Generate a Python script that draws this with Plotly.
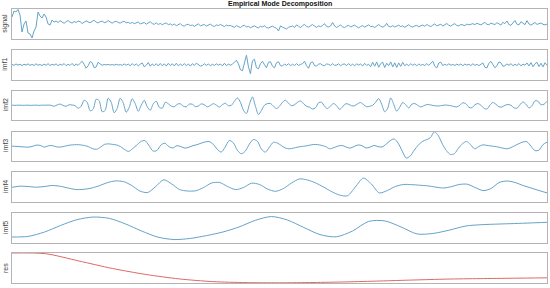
import numpy as np
import plotly.graph_objects as go

# ---------------- data ----------------
signal = [
    21.5, 27.5, 26.5, 29.0, 23.5, 6.5, 14.5, 17.5, 5.5, 4.5, 0.5, 7.5, 11.5, 26.5, 22.5, 20.5, 24.5, 21.5, 14.5, 13.5, 18.5, 16.5,
    17.5, 16.0, 17.8, 16.5, 15.2, 16.8, 18.0, 16.2, 15.5, 17.0,
    16.0, 17.5, 16.8, 15.0, 16.2, 17.6, 16.5, 15.8, 17.2, 18.2,
    16.4, 15.6, 16.9, 17.4, 15.9, 16.3, 17.9, 16.1, 15.3, 16.7,
    17.3, 16.0, 15.4, 16.6, 17.1, 15.7, 16.2, 15.0,
    16.2, 14.8, 15.9, 16.5, 14.6, 15.2, 16.0, 14.3, 15.4, 16.8,
    14.9, 14.2, 15.6, 14.0, 15.1, 13.8, 14.9, 15.5, 13.9, 14.6,
    13.2, 14.5, 12.8, 13.6, 14.8, 13.0, 12.4, 13.9, 14.2, 12.9,
    13.5, 12.2, 13.8, 14.6, 12.7, 13.1, 14.0, 12.5, 13.3, 14.4,
    12.8, 12.0, 13.6, 12.9, 14.1, 12.6, 11.9, 13.4, 12.7, 13.0,
    12.4, 11.2, 12.9, 11.8, 10.9, 12.5, 13.2, 11.6, 12.1, 10.8,
    11.9, 12.7, 11.3, 10.6, 12.2, 11.5, 12.8, 11.0, 10.5, 11.8,
    12.4, 11.1, 10.3, 7.5, 12.6, 11.4, 10.7, 9.5, 11.2, 12.0,
    12.5, 11.0, 13.6, 12.2, 10.8, 12.9, 14.2, 12.0, 11.3, 12.8,
    13.9, 12.4, 11.1, 12.6, 11.8, 13.0, 14.8, 12.1, 11.5, 12.7,
    16.0, 12.5, 11.0, 12.3, 13.5, 11.7, 10.9, 12.4, 13.1, 11.6,
    12.2, 13.4, 11.9, 10.7, 12.0, 12.9, 11.4, 12.6, 13.7, 11.8,
    12.3, 11.0, 12.8, 14.0, 12.2, 11.3, 12.5, 15.2, 12.0, 11.6,
    12.9, 11.5, 12.4, 13.3, 11.9, 12.7, 11.2, 12.5, 13.8, 12.1,
    11.4, 12.6, 13.0, 11.8, 12.4,
    13.5, 12.2, 14.0, 12.8, 11.9, 13.4, 14.6, 12.7, 13.1, 14.2,
    12.5, 13.8, 15.0, 13.2, 12.4, 13.9, 14.8, 13.0, 12.6, 14.1,
    13.5, 12.9, 14.4, 13.7, 14.2,
    14.8, 13.9, 15.2, 14.4, 13.6, 15.0, 16.1, 14.2, 13.8, 15.4,
    14.6, 13.9, 15.8, 14.7, 13.5, 16.2, 14.9, 17.5, 14.0, 13.2,
    15.6, 18.0, 14.3, 13.6, 16.8, 15.0, 13.8, 17.9, 14.5, 13.4,
    15.2, 16.0, 14.1, 14.8, 15.5, 14.2, 13.6, 14.4,
]

imf1 = [
    0.3, -0.6, 0.8, -0.4, 0.6, -0.9, 0.5, -0.3, 0.9, -0.7, 0.4, -0.8, 1.0, -0.5, 0.3, -0.9, 0.7,
    -0.6, 1.1, -0.8, 0.5, -0.4, 0.9, -1.0, 0.6, -0.5, 1.2, -0.9, 0.4, -0.7, 1.3, -1.1, 0.8, -0.6,
    1.5, 3.5, 0.5, -3.5, -1.0, 3.2, 2.0, -3.0, -2.2, 2.5, 0.8,
    -0.5, 0.3, -0.2, 0.4, -0.3, 0.2, -0.4, 0.5, -0.3, 0.2,
    -0.6, 0.8, -0.5, 0.7, -1.0, 1.2, -0.8, 0.9, -1.1, 0.6,
    1.8, -2.0, -0.5, 2.2, -1.5, 0.8, -0.9, 1.1, -1.2, 1.3,
    -1.0, 0.9, -1.3, 1.4, -0.8, 1.0, -1.2, 1.5, -1.1, 0.7,
    -0.9, 1.2, -1.0, 0.8, -1.4, 1.1, -0.7, 1.6, 0.5, -1.3,
    -0.8, 1.0, -0.6, 0.7, -0.9, 0.5, -0.7, 1.0, -0.5, 0.8,
    -1.2, 1.5, -0.8, 0.6, -0.4,
    0.5, 2.5, 4.5, 1.0, -5.0, -6.0, 3.0, 9.5, -2.0, -9.0, 4.0, 5.5, -3.0,
    -4.0, 1.0, 3.5, 0.0, -3.0, 2.5, 3.0, -1.5, -3.0, 2.0, 3.0, -1.0,
    -1.2, 0.8, -0.6, 1.0, -0.9, 0.5, -0.8, 1.1, -0.7, 0.4,
    1.0, 3.5, -1.0, -3.5, 2.0, 3.0, -1.0,
    -1.2, 0.6, 1.0, -0.5, -0.9, 0.8, 0.4, -0.7, 1.1, -0.6, -0.3, 0.9, -1.0, 0.5,
    0.7, -0.8, 1.2, -0.9, 0.6, -1.1, 1.0, -0.4, 0.8, -1.2, 1.4, -0.7, 0.5,
    -2.0, 2.5, -1.5, 2.8, -2.5, 1.2, 2.6, -2.8, 1.5, -1.0, 2.9, -2.2, 2.0, -2.7, 1.8, -1.6, 2.4, -1.0,
    0.6, -0.9, 1.0, -0.5, 0.7, -1.1, 0.9, -0.6, 0.4, -0.8, 1.1, -0.7,
    2.0, 3.6, -1.5, -3.2, 1.8, 2.6,
    -0.8, 0.5, -0.6, 0.9, -0.4, 0.3, -0.7, 0.6, -0.5, 0.8, -1.0, 0.7, -0.3, 0.5, -0.8, 1.0, -0.6, 0.4, -0.9, 0.7,
    1.8, -2.5, -3.2, 1.5, 3.4, 0.2, -3.0, -1.0, 2.8, 2.0, -1.5,
    -1.0, 0.8, -0.5, 1.1, -0.9, 0.4, -0.7, 1.2, -1.1, 0.6, -0.5,
    1.8, -1.2, 2.2, -2.0, 1.0, 2.4, -1.8, 1.5, -2.2, 2.0, -0.5,
]

imf2 = [
    0.1, -0.1, 0.1, 0.0, -0.1, 0.1, -0.1, 0.0, 0.1, -0.1, 0.1, 0.0, 0.2, -0.1,
    -1.0, 0.3, 1.2, -0.2, -1.0, 0.5, 0.2, -0.3,
    -3.0, -1.0, 5.0, 3.0, -5.5, -4.0, 6.0, 4.5, -6.5, -5.0,
    7.0, 3.0, -7.5, -3.0, 7.0, 2.5, -7.0, -2.0, 6.5, 1.5,
    -6.0, 0.0, 5.0, -1.5, -5.0, 1.5, 4.0, -2.0, -3.0, 3.0,
    1.5, -1.0, -1.5, 1.0, 1.5, -1.0, -1.5, 1.2, 1.0, -1.3,
    -0.8, 1.4, 0.5, -1.5, -0.2, 1.6, 0.0, -1.8, 0.5, 2.0, -0.5,
    0.0, 4.0, 7.3, 3.0, -5.0, -8.3, 1.0, 8.3, -1.0, -9.3, -5.0, 0.0, 1.7,
    1.7, -1.0, -3.3, -1.0, 3.0, 5.0, 2.0, -0.5, 0.5, 3.0, 4.3, 1.5, -1.0, -2.0,
    -3.8, -2.5, 2.5, 3.0, -1.0, -3.3, -0.5, 1.7, -0.5, -4.0, -1.5,
    1.5, 1.0, -0.5, -0.5, 1.5, 2.7, 0.5, -1.5, -1.0, 0.0,
    3.0, 6.7, 1.0, -6.5, -3.0, 7.3, 1.0, -6.0, -2.0, 2.7, 0.5, -2.7,
    1.0, 1.7, 0.0, -1.7, -0.5, 0.7, 0.5, -0.2, -0.6, -0.7, -0.3, 0.2, 0.0, -0.5, -1.2, -1.7,
    0.0, 2.5, 1.5, -2.0, -2.5, 0.5, 1.7, 0.0, -3.0, -3.8,
    0.0, 2.7, 1.0, -1.5, -1.8, 0.0, 0.7, 0.0, -2.5, -3.0,
    0.5, 3.3, 1.0, -2.7, -0.5, 4.5, 4.0, 0.5, 1.0, 4.0,
]

imf3 = [
    0.0, -0.2, -0.5, -0.8, -1.0, -0.3, 1.0, 0.8, -1.0, 0.3,
    0.6, -0.7, -0.9, -0.2, 0.8, 1.3, 1.5, 1.3, 0.6, -0.5,
    -2.5, -3.2, -1.0, 1.8, 2.3, 1.8, 1.2, -0.5, -3.5, -5.3,
    -2.5, 1.0, 4.5, 5.7, 1.0, -4.8, -4.5, 1.0, 3.0, -0.5,
    -1.8, 0.5, -0.5, -2.0, -1.0, 0.5, 1.5, 3.0, 4.2, 4.7,
    2.0, -3.0, -6.0, -1.0, 5.7, 3.5, -4.0, -7.7, -5.0, 2.0,
    6.7, 5.0, -3.0, -6.0, -1.0, 4.0, 3.0, 0.5, -2.0, -2.7,
    -2.0, -1.0, -0.3, 0.2, 1.0, 1.7, 1.5, 0.7, -0.5, -2.7,
    -1.5, 0.0, 0.7, -0.8, -2.0, -0.5, 1.2, 0.5, -1.8, -1.0,
    0.7, -0.5, -0.8, 2.0, 5.5, 7.3, 3.0, -5.0, -12.0, -10.0,
    -4.0, 1.0, 4.7, 6.5, 8.5, 14.5, 10.5, 2.0, -4.5, -8.5,
    -7.5, -2.0, 2.5, 4.7, 1.5, -2.7, -0.5, 1.3, 0.8, 0.2,
    -0.3, -1.0, -2.0, -2.7, -1.5, 0.5, 2.5, 4.2, 4.5, 0.0,
    -4.5, -4.0, 1.5, 4.0,
]

imf4 = [
    -0.3, 0.8, 0.5, -0.2, 0.4, 1.5, 0.8, -1.0, -2.5, -2.3,
    -1.0, 1.5, 4.5, 6.1, 5.3, 1.5, -4.0, -5.5, 0.5, 7.2,
    3.0, -2.6, -4.0, -3.8, -0.5, 4.0, 4.5, 0.5, -2.6, -0.5,
    3.8, 2.5, -2.0, -4.3, -1.5, 4.0, 8.1, 7.0, 4.2, 0.0,
    -4.5, -8.0, -8.8, 0.0, 8.9, 3.0, -5.9, -3.5, 0.5, 2.5,
    2.4, 1.8, 1.2, 0.0, -1.0, 0.3, 2.5, 2.8, -0.5, -3.6,
    -1.5, 4.5, 6.0, 4.5, 1.5, -1.0, -3.5, -5.9,
]

imf5 = [
    -8.9, -8.3, -4.0, 2.5, 8.2, 10.8, 9.5, 4.0, -3.0, -9.0,
    -11.4, -10.3, -7.5, -4.0, 1.0, 7.5, 11.3, 7.8, 0.5, -6.5,
    -8.7, -3.0, 6.5, 7.0, 1.0, -5.9, -5.3, -2.0, 2.0, 3.3,
    3.9, 4.4, 5.0, 5.6,
]

res = [29.5, 28.8, 21.5, 14.0, 8.0, 3.5, 0.8, -0.2, -0.4, -0.1,
       0.5, 1.4, 2.4, 3.3, 3.8, 4.2, 4.6]

panel_names = ["signal", "imf1", "imf2", "imf3", "imf4", "imf5", "res"]
panel_data = [signal, imf1, imf2, imf3, imf4, imf5, res]
panel_ranges = [[0, 29.5], [-14.75, 14.75], [-14.75, 14.75], [-14.5, 14.8],
                [-15, 15], [-14.8, 14.8], [-0.6, 29.5]]
panel_shapes = ["linear", "linear", "spline", "spline", "spline", "spline", "spline"]

# ---------------- figure ----------------
W, H = 550, 288
ML, MR, MT, MB = 12, 3, 9, 5
plot_h = H - MT - MB
panel_px = [(9, 38.5), (50, 79.5), (90.5, 120), (131.5, 160.5),
            (172, 202), (213, 243), (253, 283)]

BLUE = "#65a3c7"
RED = "#dc6a66"
BOX = "#b4b4b4"

fig = go.Figure()
layout = dict(
    width=W, height=H, margin=dict(l=ML, r=MR, t=MT, b=MB),
    paper_bgcolor="white", plot_bgcolor="white", showlegend=False,
    font=dict(family="Liberation Sans, Arial, sans-serif", size=7, color="#222"),
)
annotations = []
for i, (name, vals) in enumerate(zip(panel_names, panel_data)):
    n = len(vals)
    t = np.linspace(0.0, 1.0, n)
    ax = "" if i == 0 else str(i + 1)
    fig.add_trace(go.Scatter(
        x=t, y=vals, mode="lines", xaxis="x" + ax, yaxis="y" + ax,
        line=dict(color=RED if name == "res" else BLUE, width=1,
                  shape=panel_shapes[i], smoothing=0.8),
        hoverinfo="skip"))
    top, bot = panel_px[i]
    d0 = (H - MB - bot) / plot_h
    d1 = (H - MB - top) / plot_h
    layout["xaxis" + ax] = dict(domain=[0, 1], range=[0, 1], anchor="y" + ax,
                                showticklabels=False, ticks="", showgrid=False,
                                zeroline=False, showline=True, mirror=True,
                                linecolor=BOX, linewidth=1, fixedrange=True)
    layout["yaxis" + ax] = dict(domain=[d0, d1], range=panel_ranges[i], anchor="x" + ax,
                                showticklabels=False, ticks="", showgrid=False,
                                zeroline=False, showline=True, mirror=True,
                                linecolor=BOX, linewidth=1, fixedrange=True)
    annotations.append(dict(text=name, xref="paper", yref="paper",
                            x=-7 / (W - ML - MR), y=(d0 + d1) / 2,
                            xanchor="center", yanchor="middle", textangle=-90,
                            showarrow=False, font=dict(size=7, color="#444")))

annotations.append(dict(text="<b>Empirical Mode Decomposition</b>", xref="paper", yref="paper",
                        x=0.5, y=1 + 4.5 / plot_h, xanchor="center", yanchor="middle",
                        showarrow=False, font=dict(size=7, color="#111")))
layout["annotations"] = annotations
fig.update_layout(**layout)
fig.write_html("out.html", config={"displayModeBar": False, "staticPlot": True},
               post_script="document.body.style.margin='0';document.body.style.overflow='hidden';")
